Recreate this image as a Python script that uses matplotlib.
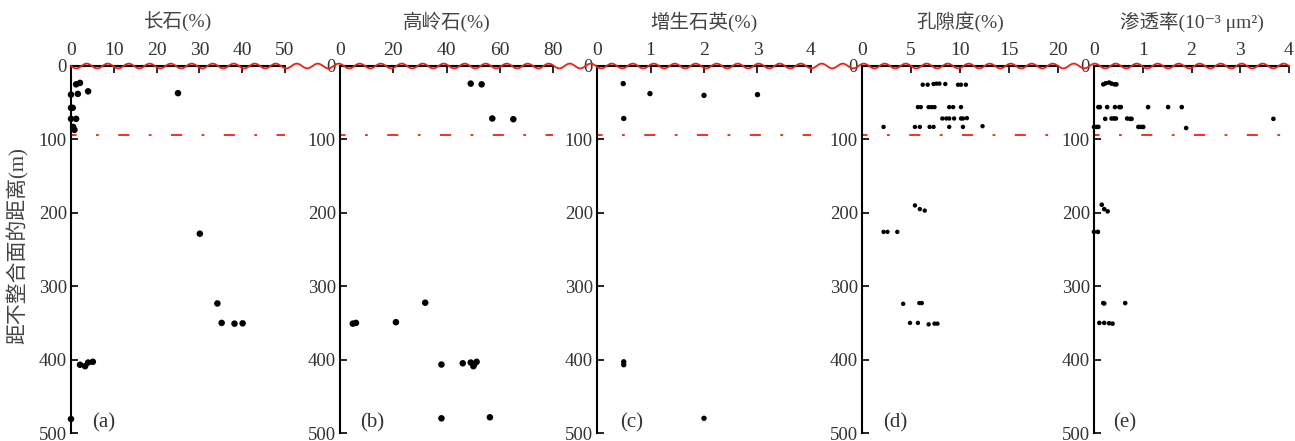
import numpy as np
import matplotlib
matplotlib.use('Agg')
import matplotlib.pyplot as plt
from matplotlib.lines import Line2D

plt.rcParams['font.family'] = ['Liberation Serif', 'Noto Sans CJK SC', 'DejaVu Serif']
plt.rcParams['lines.scale_dashes'] = False

# depth below unconformity (m) and values for each panel
feld_val = [1.2, 2.1, 0, 1.6, 4.0, 25, 0, 0.4, 0, 1.2, 0.5, 0.8,
            30.1, 34.2, 35.2, 38.2, 40.1, 2.1, 3.3, 4.0, 5.1, 0]
feld_dep = [25, 23, 39, 38, 34.5, 37, 57, 57, 72, 72, 83, 87,
            228.5, 323.5, 350, 351, 350.6, 407, 409, 404, 403, 481]

kaol_val = [49.1, 53.2, 57.2, 65.1, 4.8, 6.0, 21.0, 32.0, 38.1, 46.1,
            49.1, 50.1, 51.3, 50.5, 38.1, 56.3]
kaol_dep = [24, 25, 71.5, 72.5, 351, 350, 349, 322.5, 406.7, 405,
            404, 409, 403, 406, 480, 478.6]

qtz_val = [0.49, 0.99, 2.0, 3.0, 0.5, 0.5, 0.5, 2.0]
qtz_dep = [24, 37.6, 40, 39, 71.5, 403, 407, 480]

por_val = [6.2, 6.7, 7.3, 7.6, 7.9, 8.5, 9.8, 10.1, 10.6,
           5.7, 6.0, 6.8, 7.1, 7.4, 8.9, 9.3, 10.1,
           8.2, 8.6, 8.9, 9.4, 10.1, 10.3, 10.7,
           2.2, 5.4, 5.9, 6.9, 7.3, 8.9, 10.3, 12.3,
           5.4, 5.9, 6.4, 2.2, 2.6, 3.6, 4.2, 5.85, 6.1,
           4.9, 5.7, 6.8, 7.4, 7.7]
por_dep = [25.5, 25.5, 24.5, 24, 24, 24.5, 25.5, 25.5, 25.5,
           56, 56, 56, 56, 56, 56, 56, 56,
           71.5, 71.5, 71.5, 71.5, 71.5, 71.5, 71,
           83, 83, 83, 83, 83, 83, 83, 82,
           190, 195, 197, 226, 226, 226, 324, 323, 323,
           350, 350, 352, 351, 351]

perm_val = [0.19, 0.24, 0.31, 0.36, 0.42, 0.46,
            0.09, 0.12, 0.27, 0.43, 0.52, 0.55, 1.11, 1.52, 1.80,
            0.23, 0.36, 0.41, 0.45, 0.68, 0.74, 0.77, 3.68,
            0.0, 0.05, 0.09, 0.91, 0.96, 1.01, 1.89,
            0.16, 0.21, 0.28, 0.0, 0.08, 0.19, 0.21, 0.64,
            0.11, 0.21, 0.31, 0.38]
perm_dep = [25, 23.5, 22.5, 24, 25, 25,
            56, 56, 56, 56, 56, 56, 56, 56, 56,
            72, 71.5, 71.5, 71.5, 71.5, 72, 72, 72,
            83, 83, 83, 83, 83, 83, 84.5,
            189, 195, 198, 226, 226, 323, 323.5, 323,
            350, 350, 350.5, 351]

titles = ['长石(%)', '高岭石(%)', '增生石英(%)', '孔隙度(%)',
          '渗透率(10⁻³ μm²)']
xmaxes = [50, 80, 4, 20, 4]
xsteps = [10, 20, 1, 5, 1]
tags = ['(a)', '(b)', '(c)', '(d)', '(e)']
tag_x = [0.10, 0.094, 0.107, 0.107, 0.097]
unconf_dep = 94

W, H = 1295, 441
fig = plt.figure(figsize=(W / 100, H / 100), dpi=100)

# axes boxes in pixels: left, width
boxes = [(71, 214), (340, 213), (597, 214), (862, 196), (1094, 195)]
top_px, bot_px = 66, 433
sizes = [22, 22, 15, 10, 11]

series = [(feld_val, feld_dep), (kaol_val, kaol_dep), (qtz_val, qtz_dep),
          (por_val, por_dep), (perm_val, perm_dep)]

txt_col = '#333333'
for i, (left, width) in enumerate(boxes):
    ax = fig.add_axes([left / W, 1 - bot_px / H, width / W, (bot_px - top_px) / H])
    v, d = series[i]
    ax.scatter(v, d, s=sizes[i], color='black', edgecolors='none', zorder=3, clip_on=False)
    ax.set_xlim(0, xmaxes[i])
    ax.set_ylim(500, 0)
    ax.set_xticks(np.arange(0, xmaxes[i] + 0.01, xsteps[i]))
    ax.set_yticks(np.arange(0, 501, 100))
    ax.xaxis.tick_top()
    ax.tick_params(axis='x', direction='in', length=5, width=1.2, pad=5,
                   labelsize=14, labelcolor=txt_col)
    ax.tick_params(axis='y', direction='in', length=5, width=1.2, pad=3,
                   labelsize=13.5, labelcolor=txt_col)
    for s in ['right', 'bottom']:
        ax.spines[s].set_visible(False)
    for s in ['left', 'top']:
        ax.spines[s].set_linewidth(1.5)
    ax.plot([0, xmaxes[i]], [unconf_dep, unconf_dep], color='#ee3322', lw=1.4,
            linestyle=(4, (8, 14, 2, 14)), zorder=2)
    ax.text(tag_x[i], 0.027, tags[i], transform=ax.transAxes, fontsize=15,
            color=txt_col, va='center', ha='left')
    fig.text((left + width / 2) / W, 1 - 22 / H, titles[i], fontsize=14,
             color='#444444', ha='center', va='center')

# wavy unconformity line across the top
xs = np.linspace(71, 1289, 3000)
ys = top_px + 2.4 * np.sin(2 * np.pi * (xs - 71) / 21)
fig.add_artist(Line2D(xs / W, 1 - ys / H, transform=fig.transFigure,
                      color='#ee2211', lw=1.3, zorder=5))

fig.text(18 / W, 1 - 246 / H, '距不整合面的距离(m)', rotation=90, fontsize=15,
         color='#444444', ha='center', va='center')

fig.savefig('out.png', dpi=100)
